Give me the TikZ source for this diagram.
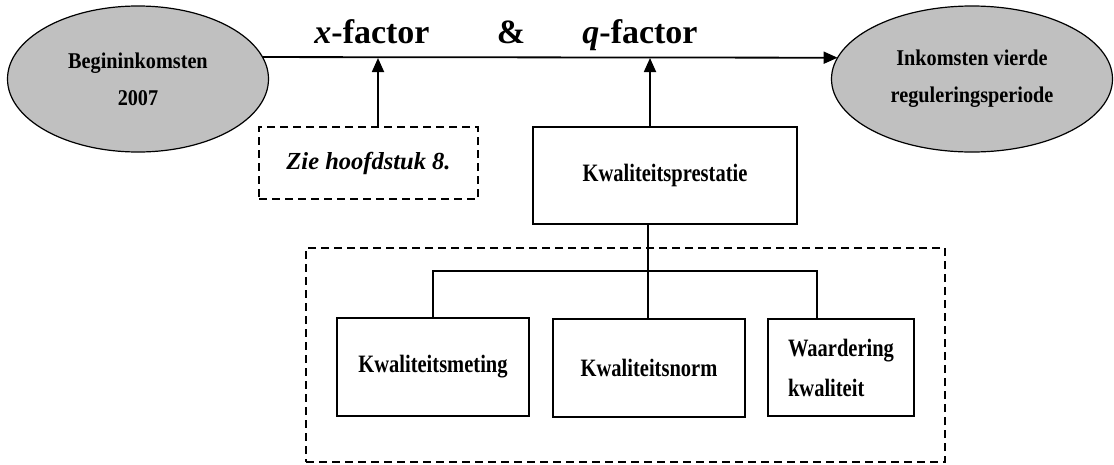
\documentclass[tikz,border=0pt]{standalone}
\usepackage{fontspec}
\setmainfont{Liberation Serif}
\newfontfamily\narrowfont{Liberation Serif}[FakeStretch=0.82]
\newfontfamily\semifont{Liberation Serif}[FakeStretch=0.9]
\usetikzlibrary{arrows.meta}
\usetikzlibrary{shapes.geometric}
\definecolor{ellgray}{RGB}{192,192,192}

\begin{document}
\begin{tikzpicture}[x=1pt, y=-1pt,
    every node/.style={inner sep=0pt, outer sep=0pt},
    ellip/.style={ellipse, draw=black, fill=ellgray, line width=1.2pt, align=center,
      font=\semifont\bfseries\fontsize{22.5}{37}\selectfont},
    box/.style={rectangle, draw=black, line width=1.8pt, align=center,
      font=\narrowfont\bfseries\fontsize{25}{40}\selectfont},
    dashbox/.style={rectangle, draw=black, line width=1.6pt, dash pattern=on 8pt off 5pt},
    flow/.style={line width=1.8pt, -{Triangle[length=14pt,width=12pt]}},
    link/.style={line width=1.6pt},
    tag/.style={anchor=base, font=\bfseries\fontsize{34}{34}\selectfont}]

      \useasboundingbox (0,0) rectangle (1114,464);

      % Height of the main bar
      \def\bary{58}

      % Start and end of the income line
      \node[ellip, minimum width=261pt, minimum height=146pt] (begin) at (138,79)
        {Begininkomsten\\2007};
      \node[ellip, minimum width=281pt, minimum height=146pt] (result) at (972,79)
        {Inkomsten vierde\\reguleringsperiode};

      % Factors above the bar
      \node[tag] (xfac) at (372,43) {\textit{x}-factor};
      \node[tag] (amp) at (511,43) {\&};
      \node[tag] (qfac) at (640,43) {\textit{q}-factor};

      % Boxes feeding the factors
      \node[dashbox, minimum width=219pt, minimum height=72pt,
        font=\bfseries\itshape\fontsize{24.5}{28}\selectfont] (zie) at (368.5,163)
        {Zie hoofdstuk 8.};
      \node[box, minimum width=264pt, minimum height=97pt] (prest) at (665,175.5)
        {Kwaliteitsprestatie};

      % Dashed group with the three parts
      \node[dashbox, minimum width=639pt, minimum height=214pt] (group) at (625.5,355) {};
      \node[box, minimum width=192pt, minimum height=98pt] (meting) at (433,367) {Kwaliteitsmeting};
      \node[box, minimum width=192pt, minimum height=98pt] (norm) at (649,368) {Kwaliteitsnorm};
      \node[box, align=left, minimum width=146pt, minimum height=97pt] (waard) at (841,367.5)
        {Waardering\\kwaliteit};

      % Main bar
      \draw[flow] (begin.10) -- (result.171);

      % Arrows onto the bar
      \coordinate (xin) at (378,\bary);
      \coordinate (qin) at (650,\bary);
      \draw[flow] (xin |- zie.north) -- (xin);
      \draw[flow] (qin |- prest.north) -- (qin);

      % Tree below the quality box
      \coordinate (split) at (648,271);
      \draw[link] (split |- prest.south) -- (split |- norm.north);
      \draw[link] (meting.north) |- (split) -| ([xshift=-24pt]waard.north);

    \end{tikzpicture}
\end{document}
